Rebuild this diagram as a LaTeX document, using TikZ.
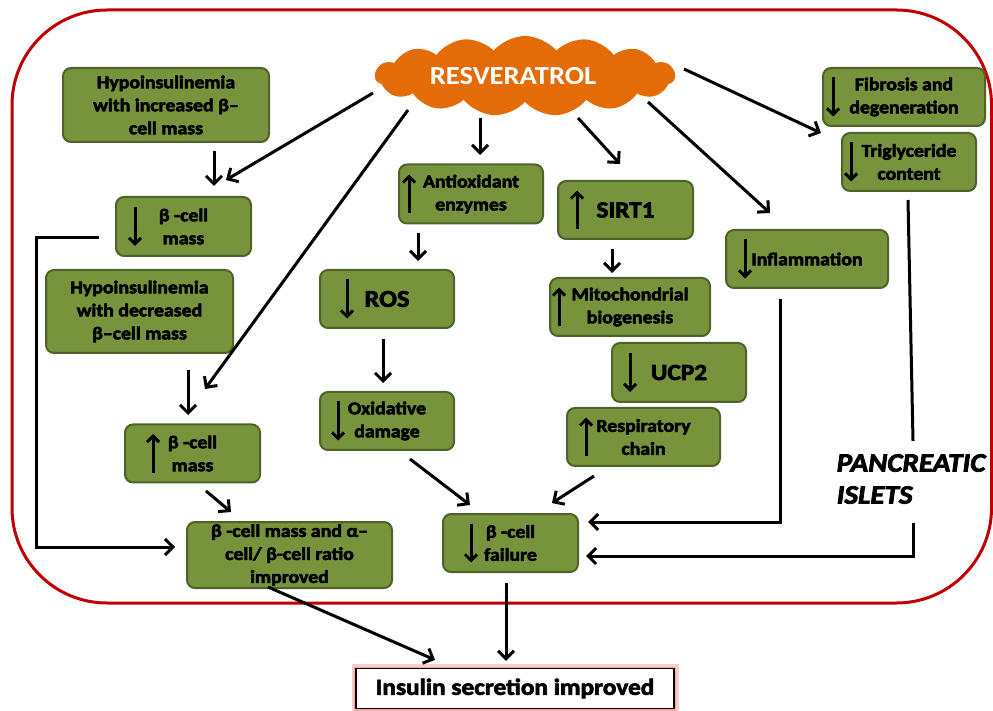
\documentclass[tikz,border=0pt]{standalone}
\usepackage{tikz}
\usepackage{fontspec}
\usetikzlibrary{arrows.meta,shapes.symbols}
\setmainfont{Carlito}
\newfontfamily\carl{Carlito}[FakeStretch=1.1, FakeBold=3]
\newfontfamily\carlr{Carlito}[FakeStretch=1.1]
\definecolor{vert}{RGB}{119,147,60}
\definecolor{vertfonce}{RGB}{79,98,40}
\definecolor{orangeresv}{RGB}{227,108,9}
\definecolor{rougecadre}{RGB}{192,0,0}
\definecolor{roseglow}{RGB}{240,170,170}
\newcommand{\texte}{\carl\bfseries\fontsize{18}{23}\selectfont}
\newcommand{\gros}{\carl\bfseries\fontsize{23}{28}\selectfont}
\newcommand{\dy}{19.5}
\tikzstyle{cadre}=[draw=rougecadre, line width=3pt, rounded corners=95pt]
\tikzstyle{boite}=[draw=vertfonce, fill=vert, line width=2pt, rounded corners=8pt, align=center, inner sep=0pt, font=\texte]
\tikzstyle{nuage}=[cloud, cloud puffs=15, cloud puff arc=100, cloud ignores aspect, fill=orangeresv, inner sep=0pt]
\tikzstyle{fleche}=[line width=3pt, -{Straight Barb[length=8pt,width=16pt,line width=3pt]}]
\tikzstyle{petite}=[line width=3pt, -{Straight Barb[length=6pt,width=12pt,line width=3pt]}]
\newcommand{\monte}[2]{\draw[petite] ([xshift=#2pt,yshift=-\dy pt]#1.center) -- ([xshift=#2pt,yshift=\dy pt]#1.center);}
\newcommand{\baisse}[2]{\draw[petite] ([xshift=#2pt,yshift=\dy pt]#1.center) -- ([xshift=#2pt,yshift=-\dy pt]#1.center);}
\begin{document}
\begin{tikzpicture}[x=1pt,y=1pt]
\useasboundingbox (0,0) rectangle (993,710);

%cadre
\draw[cadre] (12,107) rectangle (991.5,700);

%nuage
\node[nuage, minimum width=300pt, minimum height=80pt] (resv) at (525,634)
  {\carlr\bfseries\fontsize{26}{30}\selectfont\color{white}RESVERATROL\hspace*{24pt}};

%boites
\node[boite, minimum width=206pt, minimum height=74pt] (hinc) at (166,605) {Hypoinsulinemia\\with increased β–\\cell mass};
\node[boite, minimum width=135pt, minimum height=59pt] (bdec) at (183.5,483.5) {β -cell\\mass};
\node[boite, minimum width=187pt, minimum height=83pt] (hdec) at (139.5,398.5) {Hypoinsulinemia\\with decreased\\β–cell mass};
\node[boite, minimum width=135pt, minimum height=58pt] (bup) at (192.5,256.5) {β -cell\\mass};
\node[boite, minimum width=205pt, minimum height=66pt] (ratio) at (289.5,155) {β -cell mass and α–\\cell/ β-cell ratio\\improved};
\node[boite, minimum width=144pt, minimum height=59pt] (antiox) at (471,516) {Antioxidant\\enzymes};
\node[boite, minimum width=134pt, minimum height=58pt, font=\carl\bfseries\fontsize{24}{28}\selectfont] (ros) at (387,411) {ROS};
\node[boite, minimum width=134pt, minimum height=58pt] (oxid) at (387,289) {Oxidative\\damage};
\node[boite, minimum width=135pt, minimum height=58pt, font=\gros] (sirt) at (625.5,500) {SIRT1};
\node[boite, minimum width=160pt, minimum height=58pt] (mito) at (630,403) {Mitochondrial\\biogenesis};
\node[boite, minimum width=134pt, minimum height=59pt, font=\gros] (ucp) at (679,337.5) {UCP2};
\node[boite, minimum width=153pt, minimum height=58pt] (resp) at (643.5,273) {Respiratory\\chain};
\node[boite, minimum width=162pt, minimum height=58pt] (inflam) at (807,451) {Inflammation};
\node[boite, minimum width=162pt, minimum height=58pt] (fibro) at (904,613) {Fibrosis and\\degeneration};
\node[boite, minimum width=134pt, minimum height=58pt] (trig) at (909,548) {Triglyceride\\content};
\node[boite, minimum width=135pt, minimum height=58pt] (fail) at (510.5,167) {β -cell\\failure};

\node[align=left, inner sep=0pt, font=\carl\bfseries\itshape\fontsize{26.5}{32}\selectfont] (islets) at (911,231) {PANCREATIC\\ISLETS};

%sortie
\draw[roseglow, line width=9pt, opacity=0.6] (356,1.5) rectangle (674,41.5);
\draw[roseglow, line width=4pt] (356,1.5) rectangle (674,41.5);
\node[draw=black, fill=white, line width=1.2pt, minimum width=318pt, minimum height=40pt, inner sep=0pt,
  font=\carl\bfseries\fontsize{23}{26}\selectfont] (insulin) at (515,21.5) {Insulin secretion improved};

%fleches dans les boites
\baisse{bdec}{-48.5}
\monte{bup}{-39.5}
\monte{antiox}{-62}
\baisse{ros}{-40}
\baisse{oxid}{-49}
\monte{sirt}{-48.5}
\monte{mito}{-71}
\baisse{ucp}{-49}
\monte{resp}{-57.5}
\baisse{inflam}{-62}
\baisse{fibro}{-71}
\baisse{trig}{-58}
\baisse{fail}{-39.5}

%fleches
\draw[fleche] ([xshift=48pt,yshift=-8pt]hinc.south) -- ([xshift=30.5pt,yshift=10pt]bdec.north);
\draw[fleche] ([xshift=-152pt,yshift=-17pt]resv.center) -- ([xshift=42.5pt,yshift=16pt]bdec.north);
\draw[fleche] ([xshift=-117pt,yshift=-34pt]resv.center) -- ([xshift=12.5pt,yshift=34.5pt]bup.north);
\draw[fleche] ([xshift=48.5pt,yshift=-16pt]hdec.south) -- ([xshift=-4.5pt,yshift=8.5pt]bup.north);
\draw[fleche] ([xshift=13.5pt,yshift=-7.5pt]bup.south) -- ([xshift=-58.5pt,yshift=9pt]ratio.north);
\draw[fleche] ([xshift=-16pt,yshift=-11.5pt]bdec.west) -- ++(-63,0) |- ([xshift=-11pt,yshift=8pt]ratio.west);
\draw[fleche] ([xshift=-45pt,yshift=-42pt]resv.center) -- ([xshift=9pt,yshift=8.5pt]antiox.north);
\draw[fleche] ([xshift=-53pt,yshift=-8.5pt]antiox.south) -- ([xshift=31pt,yshift=8pt]ros.north);
\draw[fleche] ([xshift=-4pt,yshift=-10pt]ros.south) -- ([xshift=-4pt,yshift=8pt]oxid.north);
\draw[fleche] ([xshift=23pt,yshift=-8pt]oxid.south) -- ([xshift=-40.5pt,yshift=8pt]fail.north);
\draw[fleche] ([xshift=53pt,yshift=-42pt]resv.center) -- ([xshift=-5.5pt,yshift=16pt]sirt.north);
\draw[fleche] ([xshift=-13.5pt,yshift=-9pt]sirt.south) -- ([xshift=-18pt,yshift=4pt]mito.north);
\draw[fleche] ([xshift=123pt,yshift=-26pt]resv.center) -- ([xshift=-37pt,yshift=16pt]inflam.north);
\draw[fleche] ([xshift=159pt,yshift=7pt]resv.center) -- ([xshift=-1pt,yshift=-6pt]fibro.south west);
\draw[fleche] ([xshift=-49.5pt,yshift=-9pt]resp.south) -- ([xshift=41.5pt,yshift=10pt]fail.north);
\draw[fleche] ([xshift=-27pt,yshift=-10pt]inflam.south) |- ([xshift=9pt,yshift=21pt]fail.east);
\draw[line width=3pt] ([xshift=-1pt,yshift=-8pt]trig.south) -- ([xshift=2pt,yshift=38pt]islets.center);
\draw[fleche] ([xshift=2pt,yshift=-44pt]islets.center) |- ([xshift=7pt,yshift=-13pt]fail.east);
\draw[fleche] ([xshift=-21.5pt,yshift=2pt]ratio.south) -- ([xshift=-80pt,yshift=8pt]insulin.north);
\draw[fleche] ([xshift=-4.5pt,yshift=-10pt]fail.south) -- ([xshift=-9pt,yshift=7pt]insulin.north);
\end{tikzpicture}
\end{document}
